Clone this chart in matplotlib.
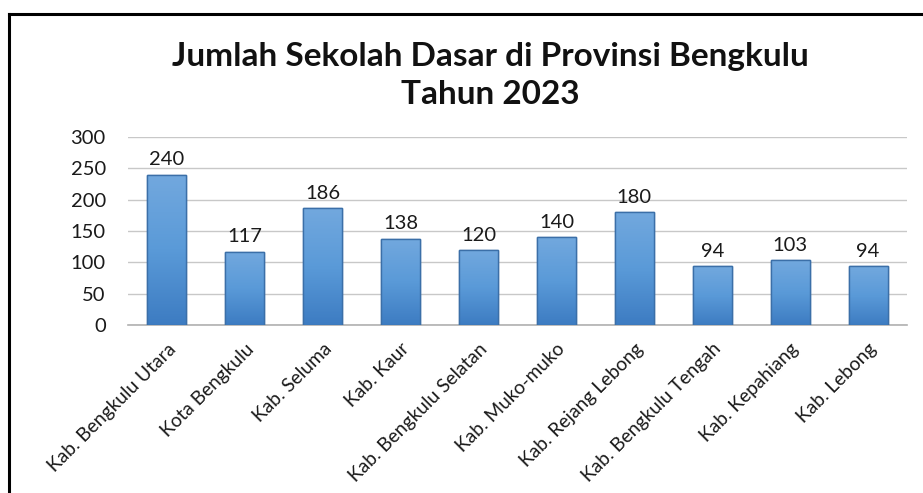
import numpy as np
import matplotlib.pyplot as plt
from matplotlib.colors import LinearSegmentedColormap
from matplotlib.lines import Line2D

plt.rcParams['font.family'] = ['Lato', 'DejaVu Sans']

wilayah = ['Kab. Bengkulu Utara', 'Kota Bengkulu', 'Kab. Seluma', 'Kab. Kaur',
           'Kab. Bengkulu Selatan', 'Kab. Muko-muko', 'Kab. Rejang Lebong',
           'Kab. Bengkulu Tengah', 'Kab. Kepahiang', 'Kab. Lebong']
jumlah_sd = [240, 117, 186, 138, 120, 140, 180, 94, 103, 94]

fig = plt.figure(figsize=(9.23, 4.93), dpi=100)
ax = fig.add_axes([0.1387, 0.3408, 0.8440, 0.3813])

x = np.arange(len(wilayah))
bars = ax.bar(x, jumlah_sd, width=0.5, color='#5b9bd5', edgecolor='#3b6fa8',
              linewidth=1.0, zorder=3)

# gradient fill inside each bar
grad = LinearSegmentedColormap.from_list('g', ['#3d7cc2', '#5a9ad8', '#72a8de'])
for b in bars:
    x0, y0 = b.get_x(), b.get_y()
    w, h = b.get_width(), b.get_height()
    img = ax.imshow(np.linspace(0, 1, 100).reshape(-1, 1), cmap=grad, origin='lower',
                    extent=[x0, x0 + w, y0, y0 + h], aspect='auto', zorder=3.5)
    img.set_clip_path(b)
    ax.add_patch(plt.Rectangle((x0, y0), w, h, fill=False, edgecolor='#3b6fa8',
                               linewidth=1.0, zorder=4))

for xi, v in zip(x, jumlah_sd):
    ax.text(xi, v + 10, str(v), ha='center', va='bottom', fontsize=14.5, color='#1a1a1a')

ax.set_xlim(-0.5, len(wilayah) - 0.5)
ax.set_ylim(0, 300)
ax.set_yticks(range(0, 301, 50))
ax.yaxis.grid(True, color='#c8c8c8', linewidth=1.0, zorder=0)
ax.set_axisbelow(True)
for s in ['top', 'right', 'left']:
    ax.spines[s].set_visible(False)
ax.spines['bottom'].set_color('#b0b0b0')
ax.spines['bottom'].set_linewidth(1.2)
ax.tick_params(axis='y', length=0, labelsize=14.5, colors='#1a1a1a', pad=16)
ax.set_xticks(x)
ax.set_xticklabels(wilayah, rotation=45, ha='right', rotation_mode='anchor')
ax.tick_params(axis='x', length=0, labelsize=13.8, colors='#1a1a1a', pad=11)

fig.text(0.531, 0.846, 'Jumlah Sekolah Dasar di Provinsi Bengkulu\nTahun 2023',
         ha='center', va='center', fontsize=24, fontweight='bold',
         color='#111111', linespacing=1.38)

# frame lines (top and left) like the cropped screenshot
fig.add_artist(Line2D([9 / 923, 1], [1 - 14 / 493, 1 - 14 / 493],
                      transform=fig.transFigure, color='black', linewidth=2.2))
fig.add_artist(Line2D([9 / 923, 9 / 923], [0, 1 - 14 / 493],
                      transform=fig.transFigure, color='black', linewidth=2.2))

fig.savefig('out.png', dpi=100)
